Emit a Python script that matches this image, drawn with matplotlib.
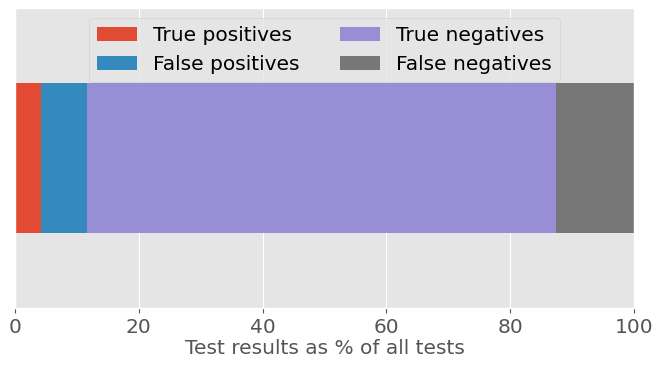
import matplotlib
matplotlib.use("Agg")
import matplotlib.pyplot as plt

plt.style.use("ggplot")

categories = ["True positives", "False positives", "True negatives", "False negatives"]
values = [4.25, 7.4, 75.75, 12.6]
colors = ["#E24A33", "#348ABD", "#988ED5", "#777777"]

fig = plt.figure(figsize=(6.59, 3.65), dpi=100)
ax = fig.add_axes([15/659, 1 - 308/365, 619/659, 300/365])

left = 0
for cat, v, c in zip(categories, values, colors):
    ax.barh(0, v, left=left, height=0.5, color=c, label=cat)
    left += v

ax.set_xlim(0, 100)
ax.set_ylim(-0.5, 0.5)
ax.set_yticks([])
ax.set_xticks([0, 20, 40, 60, 80, 100])
ax.tick_params(axis="x", labelsize=14.5)
ax.set_xlabel("Test results as % of all tests", fontsize=14.5, labelpad=2)
ax.legend(loc="upper center", ncol=2, fontsize=14.5)

fig.savefig("out.png", dpi=100)
